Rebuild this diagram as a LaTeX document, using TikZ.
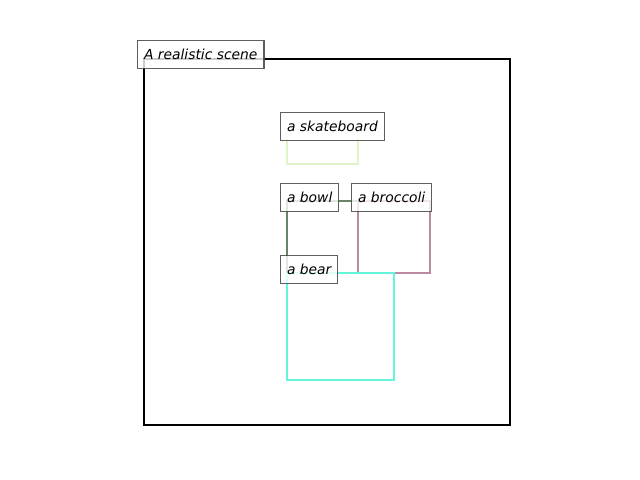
\documentclass[tikz,border=0pt]{standalone}
\usepackage{fontspec}
\setmainfont{DejaVu Sans}
\begin{document}
\begin{tikzpicture}[x=0.01in,y=-0.01in,
  lbl/.style={draw=black!70, line width=0.8pt, fill=white, fill opacity=0.8, draw opacity=0.9, text opacity=1,
    anchor=north west, inner xsep=0.065in, inner ysep=0pt, minimum height=0.275in,
    font=\itshape\fontsize{10}{12}\selectfont},
  obj/.style={line width=2pt, line join=miter}]
\useasboundingbox (0,0) rectangle (640,480);
\definecolor{skate}{HTML}{E0F5C8}
\definecolor{bowl}{HTML}{658565}
\definecolor{broc}{HTML}{B98AA0}
\definecolor{bear}{HTML}{66F5DC}
\draw[line width=1.8pt] (144,59) rectangle (510,425);
\draw[obj, skate] (287,130) rectangle (358,164);
\draw[obj, bowl] (287,201) rectangle (358,273);
\draw[obj, broc] (358,201) rectangle (430,273);
\draw[obj, bear] (287,273) rectangle (394,380);
\node[lbl] (scene) at (137,40) {A realistic scene};
\node[lbl] (skateboard) at (280,112) {a skateboard};
\node[lbl] (bowl) at (280,183) {a bowl};
\node[lbl] (broccoli) at (351,183) {a broccoli};
\node[lbl] (bear) at (280,255) {a bear};
\end{tikzpicture}
\end{document}
